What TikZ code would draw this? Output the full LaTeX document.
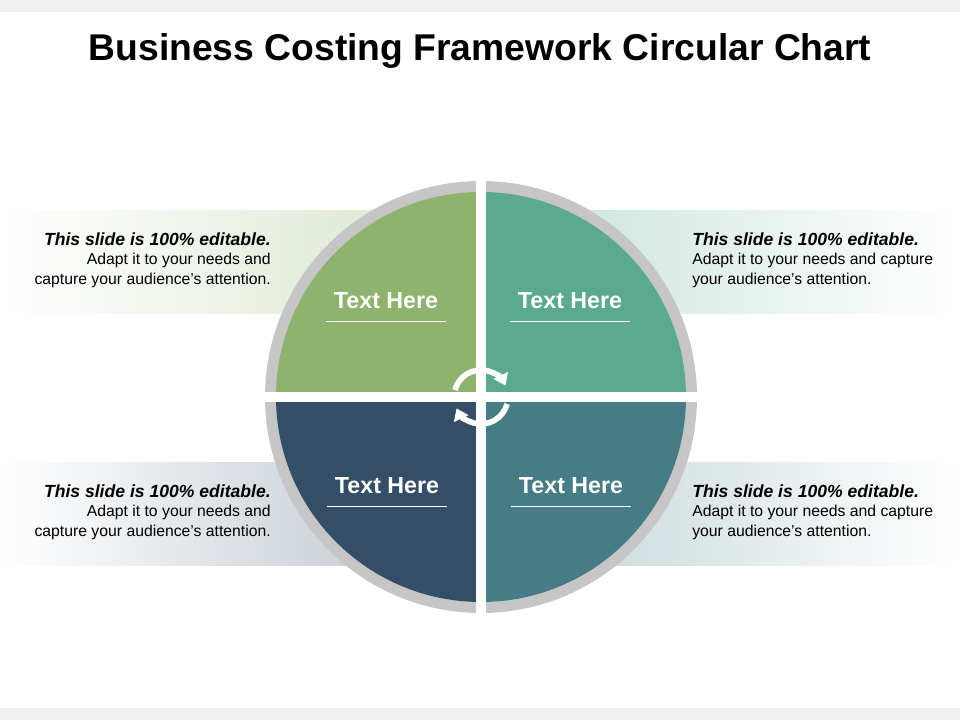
\documentclass[tikz,border=0pt]{standalone}
\usepackage{fontspec}
\setmainfont{Liberation Sans}
\usetikzlibrary{arrows.meta}
\definecolor{qgreen}{HTML}{8DB36D}
\definecolor{qteal}{HTML}{5BA98F}
\definecolor{qnavy}{HTML}{344E68}
\definecolor{qblue}{HTML}{467C85}
\definecolor{ringgray}{HTML}{C6C6C6}
\tikzset{
  qtext/.style={text=white, font=\bfseries\fontsize{16.5}{18}\selectfont},
  desc/.style={font=\fontsize{11.2}{14}\selectfont, inner sep=0pt},
  loopline/.style={white, line width=4pt, -{Triangle[length=8pt,width=11pt]}}
}
\newcommand{\headline}{{\bfseries\itshape\fontsize{12.5}{15}\selectfont This slide is 100\% editable.}}
\begin{document}
\begin{tikzpicture}[x=0.025cm, y=0.025cm]
	  \fill [white] (0,0) rectangle (960,720);
	  \useasboundingbox (0,0) rectangle (960,720);
	  \fill [black!6] (0,708) rectangle (960,720);
	  \fill [black!6] (0,0) rectangle (960,12);

	  \node [ font=\bfseries\fontsize{26.5}{30}\selectfont ] (title) at (480,669) {Business Costing Framework Circular Chart};

	  % bands
	  \shade [ left color=white, right color=qgreen!35 ] (0,406) rectangle (481,509);
	  \shade [ right color=white, left color=qteal!35 ] (481,406) rectangle (960,509);
	  \shade [ left color=white, right color=qnavy!35 ] (0,154) rectangle (481,257);
	  \shade [ right color=white, left color=qblue!35 ] (481,154) rectangle (960,257);

	  % circle
	  \coordinate (c) at (481,323);
	  \fill [ ringgray ] (c) circle (216);
	  \fill [ qgreen ] (c) -- ++(180:205) arc (180:90:205) -- cycle;
	  \fill [ qteal ] (c) -- ++(90:205) arc (90:0:205) -- cycle;
	  \fill [ qnavy ] (c) -- ++(180:205) arc (180:270:205) -- cycle;
	  \fill [ qblue ] (c) -- ++(270:205) arc (270:360:205) -- cycle;
	  \draw [ white, line width=7pt ] (481,100) -- (481,546);
	  \draw [ white, line width=7pt ] (258,323) -- (704,323);

	  % loop arrows
	  \draw [ loopline ] (c) ++(165:27) arc (165:25:27);
	  \draw [ loopline ] (c) ++(-15:27) arc (-15:-155:27);

	  % quadrant labels
	  \node [ qtext ] (tl) at (386,419) {Text Here};
	  \node [ qtext ] (tr) at (570,419) {Text Here};
	  \node [ qtext ] (bl) at (387,234) {Text Here};
	  \node [ qtext ] (br) at (571,234) {Text Here};
	  \foreach \n in {tl,tr,bl,br}
	    \draw [ white, line width=0.6pt ] ([yshift=-5pt]\n.south) ++(-60,0) -- ++(120,0);

	  % descriptions
	  \node [ desc, align=right, anchor=north east ] (dtl) at (271,488)
	    {\headline\\Adapt it to your needs and\\capture your audience's attention.};
	  \node [ desc, align=right, anchor=north east ] (dbl) at (271,236)
	    {\headline\\Adapt it to your needs and\\capture your audience's attention.};
	  \node [ desc, align=left, anchor=north west ] (dtr) at (692,488)
	    {\headline\\Adapt it to your needs and capture\\your audience's attention.};
	  \node [ desc, align=left, anchor=north west ] (dbr) at (692,236)
	    {\headline\\Adapt it to your needs and capture\\your audience's attention.};
\end{tikzpicture}
\end{document}
